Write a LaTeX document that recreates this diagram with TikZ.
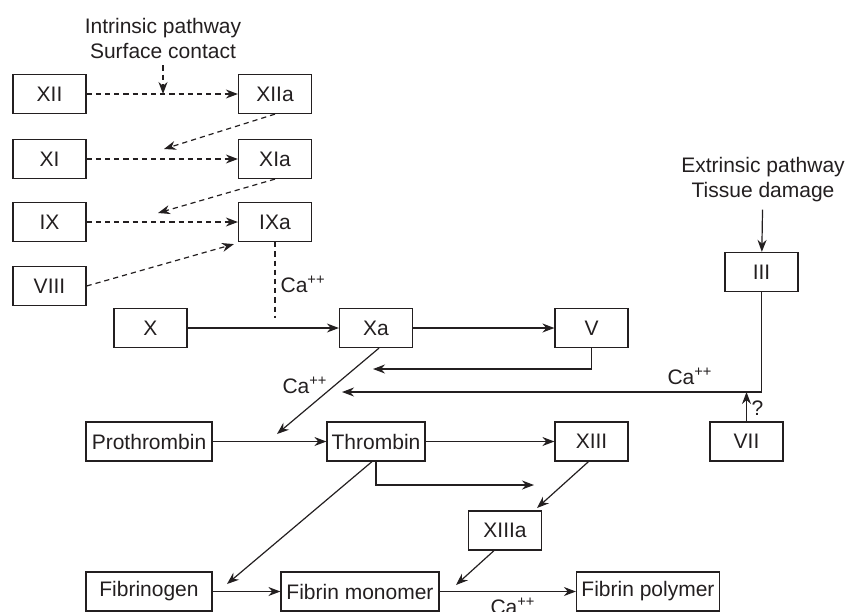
\documentclass[tikz,border=0pt]{standalone}
\usepackage{fontspec}
\setmainfont{Liberation Sans}
\usetikzlibrary{positioning,arrows.meta}
\definecolor{ink}{RGB}{35,31,32}

\begin{document}
\begin{tikzpicture}[x=0.5pt,y=-0.5pt,font=\fontsize{10.5}{12.5}\selectfont,
  color=ink,line width=0.6pt,
  box/.style={draw,minimum height=19.5pt,minimum width=36.5pt,inner sep=1pt},
  act/.style={-{Stealth[length=6pt,width=4.5pt]}},
  dsh/.style={dash pattern=on 2.6pt off 2pt}]
\useasboundingbox (0,0) rectangle (849,611);
% intrinsic side
\node[align=center] (intr) at (163,38) {Intrinsic pathway\\Surface contact};
\node[box] (xii) at (49.5,94) {XII};
\node[box] (xiia) at (275,94) {XIIa};
\node[box] (xi) at (49.5,159) {XI};
\node[box] (xia) at (275,159) {XIa};
\node[box] (ix) at (49.5,222) {IX};
\node[box] (ixa) at (275,222) {IXa};
\node[box] (viii) at (49.5,286) {VIII};
% common pathway
\node[box] (x) at (150.5,328) {X};
\node[box] (xa) at (376,328) {Xa};
\node[box] (v) at (591.5,328) {V};
\node[box,minimum width=63pt] (pro) at (149,441.5) {Prothrombin};
\node[box,minimum width=49pt] (thr) at (376,441.5) {Thrombin};
\node[box] (xiii) at (591.5,441.5) {XIII};
\node[box] (xiiia) at (505,530.5) {XIIIa};
\node[box,minimum width=63pt] (fgn) at (149,591.5) {Fibrinogen};
\node[box,minimum width=79pt] (fm) at (360,591.5) {Fibrin monomer};
\node[box,minimum width=71.5pt] (fp) at (648,591.5) {Fibrin polymer};
% extrinsic side
\node[align=center] (extr) at (763,180) {Extrinsic pathway\\Tissue damage};
\node[box] (iii) at (761.5,272) {III};
\node[box] (vii) at (746.5,441.5) {VII};

\coordinate (j11) at (164,149);
\coordinate (j9) at (158,213);
\coordinate (cadrop) at (275,318);
\coordinate (vback) at (373,369);
\coordinate (iiiback) at (342,392);
\coordinate (p1) at (277,434);
\coordinate (tr) at (534,485);
\coordinate (x13) at (537,508);
\coordinate (fg) at (227,584);
\coordinate (fm1) at (456,585);

\draw[act,dsh] (intr) -- (intr |- xii);
\draw[act,dsh] (xii) -- (xiia);
\draw[act,dsh] (xiia.south) -- (j11);
\draw[act,dsh] (xi) -- (xia);
\draw[act,dsh] (xia.south) -- (j9);
\draw[act,dsh] (ix) -- (ixa);
\draw[act,dsh] (viii.east) -- ([shift={(-4,2)}]ixa.south west);
\draw[dsh] (ixa) -- (cadrop);
\node[anchor=west,inner sep=0pt] (ca1) at (280,284) {Ca\textsuperscript{++}};

\draw[act] (x) -- (xa);
\draw[act] (xa) -- (v);
\draw[act] (v) |- (vback);
\draw[act] (extr) -- (iii);
\draw[act] (iii) |- (iiiback);
\node (ca2) at (690,376) {Ca\textsuperscript{++}};
\draw[act] (vii) -- (vii |- iiiback);
\node[anchor=west,inner sep=0pt] (q) at (751,408) {?};

\draw[act] ([shift={(3,0)}]xa.south) -- (p1);
\node (ca3) at (305,385) {Ca\textsuperscript{++}};
\draw[act] (pro) -- (thr);
\draw[act] (thr) -- (xiii);
\draw[act] (thr.south) |- (tr);
\draw[act] ([shift={(-3,0)}]xiii.south) -- (x13);
\draw[act] ([shift={(-4,0)}]thr.south) -- (fg);
\draw[act] ([shift={(-11,0)}]xiiia.south) -- (fm1);
\draw[act] (fgn) -- (fm);
\draw[act] (fm) -- (fp);
\node[anchor=base] (ca4) at (513,614) {Ca\textsuperscript{++}};
\end{tikzpicture}
\end{document}
